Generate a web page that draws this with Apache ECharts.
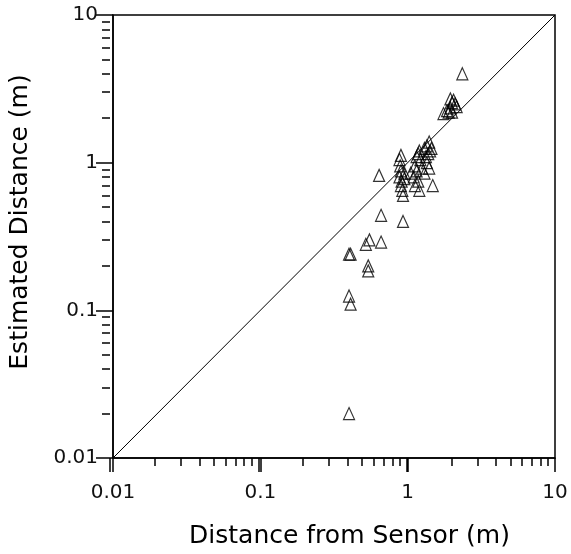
<!DOCTYPE html>
<html>
<head>
<meta charset="utf-8">
<script src="https://cdn.jsdelivr.net/npm/echarts@6/dist/echarts.min.js"></script>
<style>
html,body{margin:0;padding:0;background:#fff;}
#chart{width:571px;height:554px;}
</style>
</head>
<body>
<div id="chart"></div>
<script>
// Distance from sensor (m)
var sensorDistance = [
  0.40, 0.40, 0.41, 0.40, 0.41,
  0.52, 0.55, 0.66, 0.54, 0.54, 0.66, 0.93, 0.64,
  0.88, 0.90, 0.89, 0.90, 0.88, 0.91, 0.90, 0.92, 0.93, 0.95, 0.95,
  1.15, 1.20, 1.18, 1.22, 1.12, 1.15, 1.10, 1.18, 1.12, 1.20, 1.25, 1.05,
  1.30, 1.35, 1.40, 1.42, 1.38, 1.33, 1.45, 1.35, 1.40, 1.30, 1.48,
  1.75, 1.85, 1.95, 2.00, 2.05, 1.95, 2.10, 2.15, 1.90, 2.00,
  2.35
];
// Estimated distance (m)
var estimatedDistance = [
  0.020, 0.24, 0.24, 0.125, 0.11,
  0.28, 0.30, 0.29, 0.20, 0.185, 0.44, 0.40, 0.82,
  1.05, 1.12, 0.95, 0.88, 0.80, 0.75, 0.70, 0.65, 0.60, 0.85, 0.78,
  1.10, 1.20, 1.15, 1.05, 0.95, 0.88, 0.80, 0.75, 0.70, 0.65, 0.92, 0.85,
  1.25, 1.30, 1.38, 1.20, 1.15, 1.10, 1.25, 1.00, 0.92, 0.85, 0.70,
  2.15, 2.25, 2.35, 2.55, 2.65, 2.70, 2.50, 2.40, 2.20, 2.20,
  4.0
];
// Reference line y = x
var identityLine = [0.01, 10];
var majorTicks = [0.01, 0.1, 1, 10];
var tickLabels = ['0.01', '0.1', '1', '10'];
var minorTicks = [0.02,0.03,0.04,0.05,0.06,0.07,0.08,0.09,0.2,0.3,0.4,0.5,0.6,0.7,0.8,0.9,2,3,4,5,6,7,8,9];

var points = sensorDistance.map(function (x, i) { return [x, estimatedDistance[i]]; });
var linePts = identityLine.map(function (v) { return [v, v]; });
// nudge major tick values a hair inside the range so they are not dropped
var majorTickMarks = majorTicks.map(function (v) { return v * (v >= 10 ? 0.9995 : 1.0005); });

var FONT = 'DejaVu Sans';
function labelFmt(v) {
  var i = majorTicks.findIndex(function (m) { return Math.abs(m - v) / m < 1e-6; });
  return i >= 0 ? tickLabels[i] : '';
}
function mainAxis(name, isX) {
  return {
    gridIndex: 0,
    type: 'log', logBase: 10, min: 0.01, max: 10,
    position: isX ? 'bottom' : 'left',
    name: name, nameLocation: 'middle',
    nameGap: isX ? 66 : 80,
    nameTextStyle: isX
      ? {fontFamily: FONT, fontSize: 25, color: '#000', padding: [0, 0, 0, 31]}
      : {fontFamily: FONT, fontSize: 25, color: '#000', padding: [0, 0, 0, 29]},
    axisLine: {show: true, lineStyle: {color: '#000', width: 1.5}},
    axisTick: {show: true, length: 14, lineStyle: {color: '#000', width: 1.5}},
    splitLine: {show: false},
    axisLabel: {fontFamily: FONT, fontSize: 20, color: '#111', margin: isX ? 25 : 15,
                formatter: labelFmt}
  };
}
function tickAxis(isX, grid, values, len) {
  return {
    gridIndex: grid,
    type: 'log', logBase: 10, min: 0.01, max: 10,
    position: isX ? 'bottom' : 'left',
    axisLine: {show: false},
    axisTick: {show: true, length: len, customValues: values, lineStyle: {color: '#000', width: 1.5}},
    axisLabel: {show: false},
    splitLine: {show: false}
  };
}

var gridRect = {left: 110, right: 16, top: 15, bottom: 96};
var chart = echarts.init(document.getElementById('chart'), null, {renderer: 'canvas'});
chart.setOption({
  backgroundColor: '#fff',
  animation: false,
  grid: [
    Object.assign({show: true, borderColor: '#000', borderWidth: 1.5, backgroundColor: 'transparent'}, gridRect),
    Object.assign({show: false}, gridRect),
    Object.assign({show: false}, gridRect)
  ],
  xAxis: [mainAxis('Distance from Sensor (m)', true), tickAxis(true, 1, minorTicks, 8), tickAxis(true, 2, majorTickMarks, 14)],
  yAxis: [mainAxis('Estimated Distance (m)', false), tickAxis(false, 1, minorTicks, 8), tickAxis(false, 2, majorTickMarks, 14)],
  series: [
    {
      type: 'line', data: linePts, symbol: 'none', silent: true,
      xAxisIndex: 0, yAxisIndex: 0,
      lineStyle: {color: '#000', width: 1}
    },
    {
      type: 'scatter', data: points, symbol: 'triangle', symbolSize: [11, 12],
      xAxisIndex: 0, yAxisIndex: 0,
      itemStyle: {color: 'rgba(0,0,0,0)', borderColor: '#000', borderWidth: 1.2}
    }
  ]
});
</script>
</body>
</html>
